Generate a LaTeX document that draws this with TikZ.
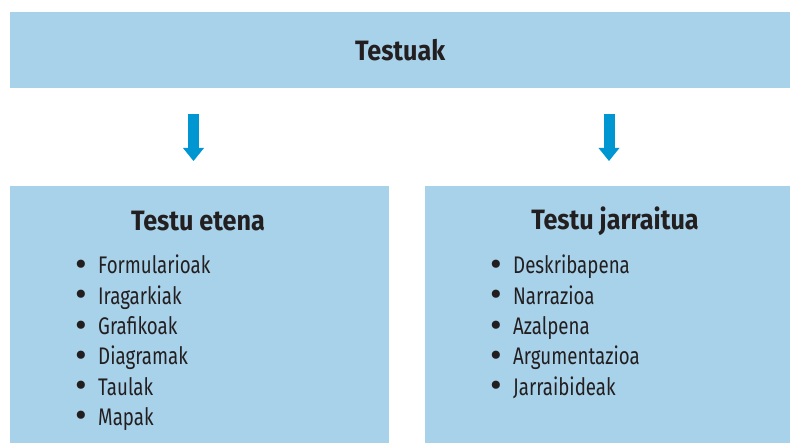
\documentclass[tikz,border=0pt]{standalone}
\usepackage{fontspec}
\setmainfont{Fira Sans}[FakeStretch=0.78,BoldFeatures={FakeStretch=0.9}]
\newfontfamily\bulletfont{Fira Sans}
\usetikzlibrary{arrows.meta}
\definecolor{boxblue}{HTML}{A8D2EA}
\definecolor{arrblue}{HTML}{0096D2}
\definecolor{ink}{HTML}{231F20}
\newcommand{\itembullet}{\makebox[23pt][l]{\smash{\raisebox{-2.5pt}{\bulletfont\fontsize{36}{30}\selectfont\textbullet}}}}

\begin{document}
\begin{tikzpicture}[x=1pt,y=1pt,
  box/.style={fill=boxblue,draw=none,inner sep=0pt,anchor=south west},
  head/.style={text=ink,inner sep=0pt,font=\fontsize{28}{34}\selectfont\bfseries},
  item/.style={text=ink,inner sep=0pt,anchor=base west,font=\fontsize{24}{30}\selectfont},
  arr/.style={arrblue,line width=11pt,-{Triangle[width=21pt,length=13pt,line width=0pt]}},
]
\useasboundingbox (0,0) rectangle (790,443);
\node[box,minimum width=780pt,minimum height=76pt](top) at(10,355){};
\node[head](title) at(top.center){Testuak};
\node[box,minimum width=379pt,minimum height=257pt](left) at(10,0){};
\node[box,minimum width=365pt,minimum height=257pt](right) at(425,0){};
\node[head](lhead) at(198,222){Testu etena};
\node[head](rhead) at(615,222){Testu jarraitua};
\coordinate(la) at(193.5,329); \coordinate(lb) at(193.5,282);
\coordinate(ra) at(609,329); \coordinate(rb) at(609,282);
\draw[arr](la)--(lb); \draw[arr](ra)--(rb);
\foreach \t [count=\i from 0] in {Formularioak,Iragarkiak,Grafikoak,Diagramak,Taulak,Mapak}
  \node[item](l\i) at(75,169-30.3*\i){\itembullet\t};
\foreach \t [count=\i from 0] in {Deskribapena,Narrazioa,Azalpena,Argumentazioa,Jarraibideak}
  \node[item](r\i) at(490,169-30.3*\i){\itembullet\t};
\end{tikzpicture}
\end{document}
